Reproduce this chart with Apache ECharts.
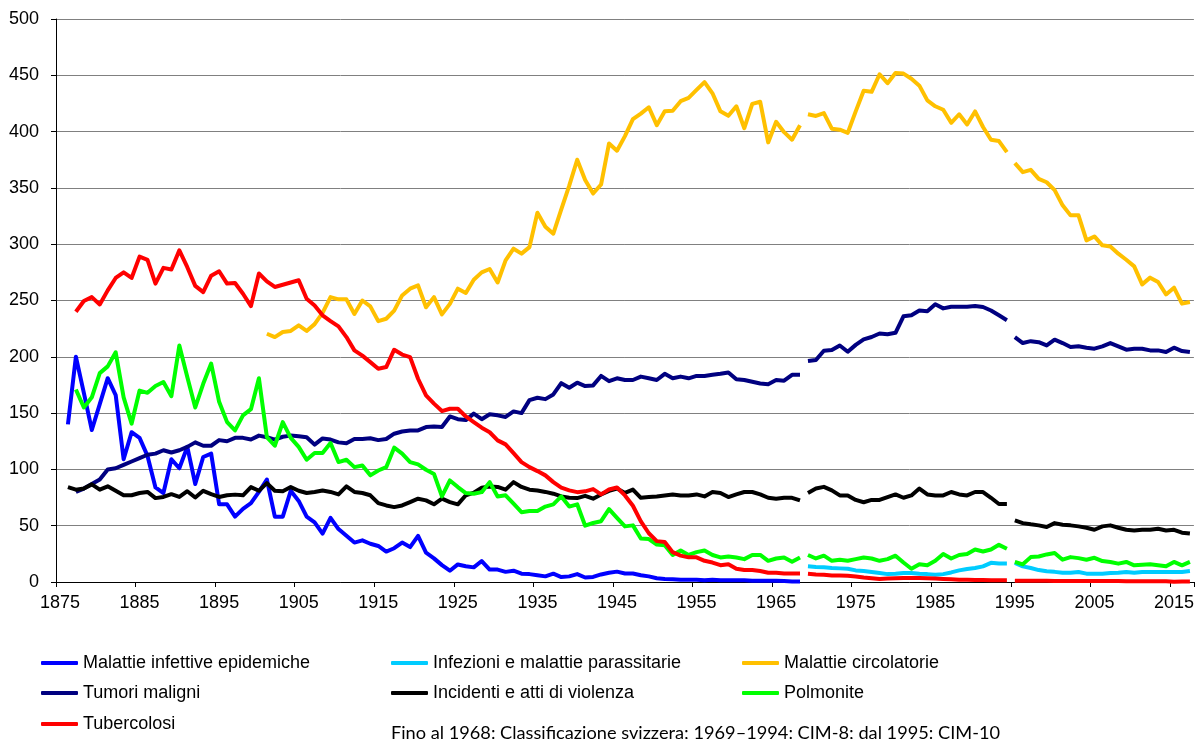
<!DOCTYPE html>
<html>
<head>
<meta charset="utf-8">
<script src="https://cdn.jsdelivr.net/npm/echarts@6/dist/echarts.min.js"></script>
<style>
html,body{margin:0;padding:0;background:#fff;}
#chart{width:1197px;height:739px;}
</style>
</head>
<body>
<div id="chart"></div>
<script>
// ---- categories (years) ----
const firstYear = 1875;
const lastYear = 2017;
const categories = [];
for (let y = firstYear; y <= lastYear; y++) categories.push(String(y));

// classification periods (lines are broken between them)
const periods = [[1876, 1968], [1969, 1994], [1995, 2017]];

// ---- series values (deaths per 100 000) ----
const infettiveStart = 1876;
const infettiveEpidemiche = [
  140, 200, 168, 135,
  158, 181, 166, 109, 133, 128, 112, 84, 79, 109,
  101, 120, 87, 111, 114, 69, 69, 58, 65, 70,
  80, 91, 58, 58, 81, 72, 58, 53, 43, 57,
  47, 41, 35, 37, 34, 32, 27, 30, 35, 31,
  41, 26, 21, 15, 10, 15.6, 14, 13, 18.6, 11,
  11, 9, 10, 7.4, 7, 6, 5, 7.4, 4.4, 5,
  7, 4, 4.5, 6.7, 8.2, 9.2, 7.6, 7.6, 6, 5,
  3.3, 2.7, 2.5, 2, 2, 2, 1.5, 2, 1.5, 1.5,
  1.5, 1.5, 1.2, 1.2, 1, 1, 0.8, 0.5, 0.5
];

const parassitarieStart = 1969;
const infezioniParassitarie = [
  13.9,
  13.3, 13, 12.4, 12.1, 11.8, 10.3, 9.7, 8.8, 7.9, 7,
  7.3, 7.9, 7.9, 7.3, 7, 6.4, 7, 8.5, 10.3, 11.6,
  12.4, 13.9, 17, 16.4, 16.4, 17, 13.9, 12.4, 10.6, 9.5,
  9, 8.3, 8.3, 8.9, 7.4, 7.4, 7.4, 8, 8.3, 8.9,
  8.3, 8.9, 8.9, 8.9, 8.9, 8.9, 8.9, 9.8
];

const circolatorieStart = 1901;
const malattieCircolatorie = [
  220.5, 217.5, 222, 223, 228, 223, 229, 239, 253,
  251, 251, 238, 250, 244.8, 231.7, 233.8, 241, 254.5, 260.5,
  263.4, 244, 253, 237.7, 247, 260.5, 256.7, 268.5, 275, 278,
  266, 285.6, 296, 291.6, 297.4, 328, 315.5, 309.3, 331, 352,
  375, 357, 345, 353, 389.5, 383, 396, 411, 416, 421.6,
  405.7, 418, 418.5, 427, 430, 437, 444, 434, 418, 414,
  422.5, 403, 424.6, 426.5, 390.4, 408.7, 399.5, 392.8, 405.7, 415.4,
  413.9, 416.4, 402.6, 401.7, 398.9, 418, 436.2, 435.3, 450.9, 443,
  452.1, 451.5, 446.9, 440.8, 427.7, 422.5, 419.4, 407.8, 415.4, 406.3,
  417.9, 404.1, 392.8, 391.6, 381.8, 372, 364, 366, 358, 355,
  348, 334.5, 325.6, 325.6, 303.4, 306.9, 299, 298, 291.6, 286.2,
  280.3, 264.3, 270.3, 266.4, 255.4, 261.4, 247.2, 248.7
];

const tumoriStart = 1877;
const tumoriMaligni = [
  80, 83, 87,
  91, 100, 101, 104, 107, 110, 113, 114, 117, 115,
  117, 120, 124, 121, 121, 126, 125, 128, 128, 126.5,
  130, 128.6, 126.5, 129, 130, 129.5, 128.5, 122, 127.5, 126.5,
  124, 123.3, 127, 127, 127.6, 126, 127, 131.7, 133.7, 134.6,
  134.6, 137.6, 138, 137.6, 147, 144.6, 143.8, 149.5, 144.6, 149,
  148, 146.6, 151.5, 150, 161.5, 163.6, 162.4, 166.6, 176.6, 172.5,
  177, 174, 174.6, 183, 178.4, 180.9, 179.4, 179.4, 182.4, 180.9,
  179.4, 184.9, 180.9, 182.4, 180.9, 183, 183, 184, 184.9, 186.1,
  180, 179.4, 177.8, 176.3, 175.7, 179.4, 178.8, 184, 184, 196.2,
  197.1, 205.4, 206, 210, 204.5, 210.6, 215.5, 217.6, 220.7, 220.1,
  221.3, 236, 236.9, 241.1, 240.5, 246.6, 243, 244.5, 244.5, 244.5,
  245.1, 244.2, 241.1, 236.9, 232.5, 217.5, 212.2, 213.9, 213, 210.1,
  215.2, 212.2, 208.7, 209.3, 208.1, 207.2, 209.3, 212.2, 209.3, 206.3,
  207.2, 207.2, 205.7, 205.7, 204.2, 208.1, 205.1, 204.2
];

const incidentiStart = 1876;
const incidentiViolenza = [
  84.3, 82, 83, 86.7,
  82, 85, 81, 77, 77, 79, 80, 74.5, 75.5, 78,
  75.5, 80.6, 75, 81, 78, 75.5, 77, 77.6, 77, 84.3,
  81, 87.8, 81, 80.6, 84.3, 81, 79, 80, 81.3, 80,
  77.8, 84.9, 80, 79, 77, 70, 68, 66.5, 68, 71,
  74, 72.5, 69, 74, 71, 69, 77, 79.4, 83.8, 84.9,
  84.4, 82, 88.7, 84.4, 82, 81.3, 80, 78.4, 76, 74.8,
  74.5, 76.5, 74, 77.8, 80.9, 83, 79.1, 82.1, 74.8, 75.4,
  76, 76.9, 77.8, 76.9, 76.9, 77.8, 76, 79.9, 79.1, 75.4,
  77.8, 79.9, 79.9, 77.8, 74.8, 73.9, 74.8, 74.8, 72.4, 79.1,
  83, 84.5, 81.4, 76.9, 76.9, 72.9, 70.8, 72.9, 72.9, 75.4,
  77.8, 74.8, 76.9, 83, 77.8, 76.9, 76.9, 79.9, 77.8, 76.9,
  79.9, 79.9, 74.8, 69.3, 69.3, 54.7, 52.3, 51.2, 50.3, 48.8,
  52.3, 50.9, 50.3, 49.4, 48.2, 46.4, 49.4, 50.3, 48.2, 46.4,
  45.8, 46.4, 46.4, 47.3, 45.8, 46.4, 43.8, 43
];

const polmoniteStart = 1877;
const polmonite = [
  171, 155, 164,
  185.5, 191.5, 204, 164, 140.6, 170, 168, 174, 177.6, 165,
  210, 182, 155, 176, 194, 160, 142, 134.6, 148, 153.5,
  181, 128.7, 121, 142, 128, 120, 108.6, 114.5, 114.5, 123.4,
  106.5, 108.6, 102, 103.5, 94.7, 99, 102, 119.3, 114, 106.5,
  104.4, 99.7, 96, 76, 90.2, 84.3, 79, 78.4, 79.8, 88.7,
  76, 77, 69.5, 62, 63, 63, 67, 69, 76, 67,
  69, 50, 52.4, 54, 64.7, 57, 49.4, 50.3, 38.7, 38.1,
  33.2, 32.6, 24, 28, 24, 26.5, 28, 24, 21.8, 22.7,
  21.8, 20.3, 24, 24, 18.8, 20.9, 21.8, 17.9, 21.8, 24,
  20.9, 23.4, 18.8, 19.7, 18.8, 20.3, 21.8, 20.9, 18.8, 20.3,
  23.4, 17.3, 11.8, 15.8, 14.9, 18.8, 24.9, 20.9, 24, 24.9,
  28.9, 27.1, 28.9, 33, 29.5, 17.8, 15.7, 22.1, 22.7, 24.5,
  25.7, 19.8, 22.1, 21.2, 19.8, 21.5, 18.6, 17.8, 16.3, 17.8,
  14.8, 15.4, 15.7, 14.8, 13.9, 17.8, 14.8, 17.8
];

const tubercolosiStart = 1877;
const tubercolosi = [
  240, 249.5, 253,
  246.5, 259, 270, 275, 270, 289, 286, 265, 279, 277.6,
  294.5, 279.6, 263, 257.5, 272, 276, 265, 265.5, 256, 245,
  274, 267, 262, 264, 266, 268, 251.6, 245.6, 236.8, 231.7,
  227, 217.5, 205.7, 201, 195.3, 189.4, 190.9, 206.3, 202, 199.7,
  180.5, 165.7, 158.4, 151.8, 153.9, 153.9, 147, 142, 137, 133,
  125.8, 122.2, 114.5, 106.5, 102, 98.5, 94.7, 88.7, 83.8, 81.4,
  79.8, 80.5, 82.5, 77.8, 82.1, 83.9, 76.9, 67.7, 53.9, 43.3,
  36.3, 35.6, 26.5, 23.4, 21.9, 21.9, 18.8, 17.3, 14.9, 15.8,
  11.8, 10.6, 10.6, 9.7, 8.2, 8.2, 7.5, 7.5, 7.5, 7.3,
  6.7, 6.4, 5.8, 5.8, 5.5, 4.9, 4, 3.3, 2.7, 3,
  3.3, 3.6, 3.6, 3.6, 3.3, 3, 2.7, 2.4, 2.1, 2.1,
  1.8, 1.8, 1.5, 1.5, 1.5, 1.2, 1.1, 1, 1, 1,
  0.9, 0.9, 0.9, 0.8, 0.8, 0.8, 0.8, 0.8, 0.8, 0.7,
  0.7, 0.7, 0.7, 0.6, 0.6, 0.3, 0.5, 0.5
];

// y axis
const yMin = 0, yMax = 500, yStep = 50;

const noteText = 'Fino al 1968: Classificazione svizzera; 1969\u20131994: CIM-8; dal 1995: CIM-10';

// ---- series definitions (drawing order as in original) ----
const seriesDefs = [
  {name: 'Malattie infettive epidemiche', color: '#0000FF', start: infettiveStart, values: infettiveEpidemiche},
  {name: 'Infezioni e malattie parassitarie', color: '#00CCFF', start: parassitarieStart, values: infezioniParassitarie},
  {name: 'Malattie circolatorie', color: '#FFC000', start: circolatorieStart, values: malattieCircolatorie},
  {name: 'Tumori maligni', color: '#000080', start: tumoriStart, values: tumoriMaligni},
  {name: 'Incidenti e atti di violenza', color: '#000000', start: incidentiStart, values: incidentiViolenza},
  {name: 'Polmonite', color: '#00FF00', start: polmoniteStart, values: polmonite},
  {name: 'Tubercolosi', color: '#FF0000', start: tubercolosiStart, values: tubercolosi}
];

const series = [];
seriesDefs.forEach(function (d, idx) {
  periods.forEach(function (p) {
    let any = false;
    const data = categories.map(function (c) {
      const y = Number(c);
      if (y < p[0] || y > p[1]) return null;
      const i = y - d.start;
      if (i < 0 || i >= d.values.length) return null;
      any = true;
      return d.values[i];
    });
    if (!any) return;
    series.push({
      type: 'line',
      name: d.name,
      data: data,
      symbol: 'none',
      showSymbol: false,
      connectNulls: false,
      silent: true,
      animation: false,
      z: 2 + idx,
      itemStyle: {color: d.color},
      lineStyle: {color: d.color, width: 4, cap: 'butt', join: 'round'}
    });
  });
});

const FONT = '"Liberation Sans", Arial, sans-serif';
const legendPos = [[41, 654], [391, 654], [742, 654], [41, 684], [391, 684], [742, 684], [41, 715]];
const legends = seriesDefs.map(function (d, i) {
  return {
    data: [d.name],
    left: legendPos[i][0],
    top: legendPos[i][1],
    padding: 0,
    itemWidth: 37,
    itemHeight: 4,
    icon: 'roundRect',
    selectedMode: false,
    textStyle: {fontFamily: FONT, fontSize: 18, color: '#000', lineHeight: 18}
  };
});

// note text sizing to match its width in the original
function fitFont(text, family, targetWidth) {
  const cv = document.createElement('canvas').getContext('2d');
  cv.font = '20px ' + family;
  const w = cv.measureText(text).width;
  return Math.round(20 * targetWidth / w * 10) / 10;
}
const NOTE_FONT = 'Lato, "Open Sans", sans-serif';
const noteSize = fitFont(noteText, NOTE_FONT, 609);

const chart = echarts.init(document.getElementById('chart'), null, {renderer: 'canvas'});
chart.setOption({
  animation: false,
  backgroundColor: '#ffffff',
  grid: {left: 56, top: 19, width: 1144, height: 563, containLabel: false},
  legend: legends,
  xAxis: {
    type: 'category',
    data: categories,
    boundaryGap: true,
    axisLine: {show: true, lineStyle: {color: '#000', width: 1}},
    axisTick: {show: true, interval: 9, length: 5, alignWithLabel: false, lineStyle: {color: '#000'}},
    axisLabel: {interval: 9, fontFamily: FONT, fontSize: 18, color: '#000', margin: 12},
    splitLine: {show: false}
  },
  yAxis: {
    type: 'value',
    min: yMin, max: yMax, interval: yStep,
    axisLine: {show: true, lineStyle: {color: '#000', width: 1}},
    axisTick: {show: true, length: 5, lineStyle: {color: '#000'}},
    axisLabel: {fontFamily: FONT, fontSize: 18, color: '#000', margin: 17},
    splitLine: {show: true, lineStyle: {color: '#808080', width: 1}}
  },
  graphic: [{
    type: 'text',
    left: 391,
    top: 724,
    style: {text: noteText, fontFamily: NOTE_FONT, fontSize: noteSize, fill: '#000'}
  }],
  series: series
});
</script>
</body>
</html>
